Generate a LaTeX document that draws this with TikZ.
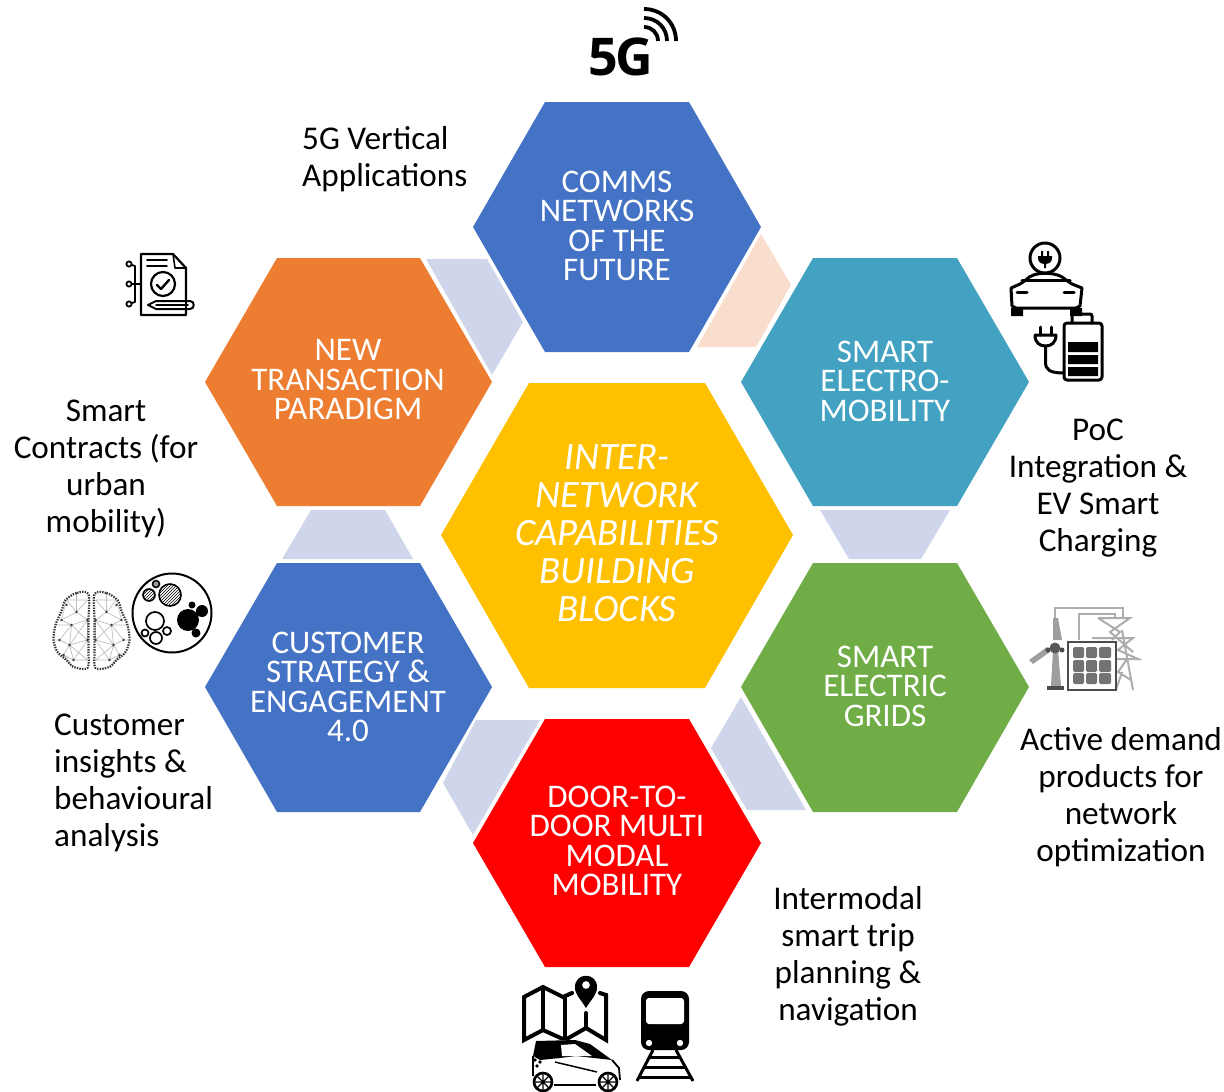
\documentclass[tikz,border=0pt]{standalone}
\usepackage{fontspec}
\setmainfont{Carlito}
\newfontfamily\iconfont{Open Sans}
\usetikzlibrary{patterns}
\definecolor{hblue}{HTML}{4472C4}
\definecolor{horange}{HTML}{ED7D31}
\definecolor{hteal}{HTML}{43A2C2}
\definecolor{hgreen}{HTML}{70AD47}
\definecolor{hyellow}{HTML}{FFC000}
\definecolor{piece}{HTML}{CFD5EA}
\definecolor{peach}{HTML}{F9DECD}
\tikzset{
  hextext/.style={text=white,align=center,inner sep=0pt,font=\fontsize{33}{29.5}\selectfont},
  midtext/.style={text=white,align=center,inner sep=0pt,font=\fontsize{38.7}{38}\selectfont\itshape},
  lab/.style={text=black,inner sep=0pt,font=\fontsize{33.2}{37}\selectfont},
  ic/.style={draw=black,line width=2pt,line join=round,line cap=round},
  icg/.style={draw=black!32,line width=2pt,line join=miter},
}
\begin{document}
\begin{tikzpicture}[x=1pt,y=-1pt]
\useasboundingbox (0,0) rectangle (1224,1092);
% connecting pieces
\fill[piece] (426,259)--(487,259)--(523,322)--(492,375)--cycle;
\fill[peach] (761,234)--(791,285)--(756,347)--(697,347)--cycle;
\fill[piece] (820,510)--(950,510)--(921,559)--(849,559)--cycle;
\fill[piece] (282,559)--(413,559)--(385,510)--(311,510)--cycle;
\fill[piece] (476,720)--(540,720)--(473,835)--(443,783)--cycle;
\fill[piece] (741,697)--(806,810)--(747,810)--(711,748)--cycle;
% hexagons
\fill[hblue] (473,227)--(545,102)--(689,102)--(761,227)--(689,352)--(545,352)--cycle;
\fill[horange] (205,382)--(277,258)--(420,258)--(492,382)--(420,506)--(277,506)--cycle;
\fill[hteal] (741,382)--(813,258)--(957,258)--(1029,382)--(957,506)--(813,506)--cycle;
\fill[hblue] (205,687)--(277,563)--(420,563)--(492,687)--(420,812)--(277,812)--cycle;
\fill[hgreen] (741,687)--(813,563)--(957,563)--(1029,687)--(957,812)--(813,812)--cycle;
\fill[red] (473,843)--(545,719)--(689,719)--(761,843)--(689,967)--(545,967)--cycle;
\fill[hyellow] (441,535)--(529,383)--(705,383)--(793,535)--(705,688)--(529,688)--cycle;
% hexagon texts
\node[hextext] (comms) at (617,226) {COMMS\\NETWORKS\\OF THE\\FUTURE};
\node[hextext] (trans) at (348,380) {NEW\\TRANSACTION\\PARADIGM};
\node[hextext] (emob) at (885,381) {SMART\\ELECTRO-\\MOBILITY};
\node[hextext] (cust) at (348,687) {CUSTOMER\\STRATEGY \&\\ENGAGEMENT\\4.0};
\node[hextext] (grids) at (885,686) {SMART\\ELECTRIC\\GRIDS};
\node[hextext] (door) at (617,841) {DOOR-TO-\\DOOR MULTI\\MODAL\\MOBILITY};
\node[midtext] (mid) at (617,533) {INTER-\\NETWORK\\CAPABILITIES\\BUILDING\\BLOCKS};
% labels
\node[lab,align=left,anchor=west] (l5g) at (302,159) {5G Vertical\\Applications};
\node[lab,align=center] (lsc) at (106,469) {Smart\\Contracts (for\\urban\\mobility)};
\node[lab,align=center] (lpoc) at (1098,488) {PoC\\Integration \&\\EV Smart\\Charging};
\node[lab,align=left,anchor=west] (lci) at (54,783) {Customer\\insights \&\\behavioural\\analysis};
\node[lab,align=center] (lad) at (1121,797) {Active demand\\products for\\network\\optimization};
\node[lab,align=center] (lit) at (848,956) {Intermodal\\smart trip\\planning \&\\navigation};
% 5G icon
\node[inner sep=0pt,font=\iconfont\bfseries\fontsize{52}{52}\selectfont] (fiveg) at (621,57) {\addfontfeature{LetterSpace=-6}5G};
\draw[line width=3.8pt] (644,27) .. controls (652,27) and (658,33) .. (658,41);
\draw[line width=3.8pt] (644,18) .. controls (657,18) and (667,28) .. (667,41);
\draw[line width=3.8pt] (644,9) .. controls (662,9) and (676,23) .. (676,41);
% document icon
\draw[ic,line width=2.2pt] (141,254)--(173,254)--(186,268)--(186,315)--(141,315)--cycle;
\draw[ic,line width=1.6pt] (173,254)--(175,268)--(186,268);
\draw[ic,line width=1.8pt] (147,260)--(167,260) (147,266)--(167,266);
\draw[ic,line width=2.2pt] (163,284) circle[radius=12];
\draw[ic,line width=2.4pt] (157,285)--(161,289)--(169,280);
\draw[ic,line width=1.8pt] (129,264)--(135,266)--(135,302)--(129,304) (132,284)--(141,284);
\draw[ic,line width=1.8pt,fill=white] (129,264) circle[radius=2.6] (129,284) circle[radius=2.6] (129,304) circle[radius=2.6];
\draw[ic,line width=2pt,fill=white] (148,305)--(156,301)--(190,301) .. controls (195,301) and (195,309) .. (190,309)--(156,309)--cycle;
\draw[ic,line width=1.5pt] (156,305)--(188,305) (186,301)--(186,309);
% EV icon
\draw[ic,line width=3pt,fill=white] (1011,288)--(1020,284)--(1026,280) .. controls (1032,271) and (1058,271) .. (1066,280)--(1072,284)--(1082,288)--(1080,306)--(1076,308)--(1016,308)--(1012,306)--cycle;
\draw[ic,line width=3pt] (1022,280)--(1070,280);
\fill[black] (1011,308) rectangle (1023,316) (1070,308) rectangle (1082,316);
\draw[ic,line width=3pt] (1017,292)--(1027,292) (1064,292)--(1074,292);
\draw[ic,line width=3pt,fill=white] (1045,258) circle[radius=15];
\fill[black] (1038,256)--(1052,256)--(1052,258) .. controls (1052,262) and (1049,264) .. (1045,264) .. controls (1041,264) and (1038,262) .. (1038,258) -- cycle;
\fill[black] (1044,264) rectangle (1046,268) (1041,251) rectangle (1043,257) (1047,251) rectangle (1049,257);
\draw[ic,line width=3pt,fill=white,rounded corners=3pt] (1064,323) rectangle (1102,380);
\draw[ic,line width=3pt,rounded corners=2pt] (1072,323)--(1072,314)--(1092,314)--(1092,323);
\fill[black] (1068,342) rectangle (1098,352) (1068,355) rectangle (1098,364) (1068,367) rectangle (1098,376);
\draw[ic,line width=3pt] (1040,327)--(1040,335) (1051,327)--(1051,335);
\draw[ic,line width=3pt] (1035,335)--(1056,335)  .. controls (1056,343) and (1051,346) .. (1045.5,346) .. controls (1040,346) and (1035,343) .. (1035,335);
\draw[ic,line width=3pt] (1045.5,346)--(1045.5,362) .. controls (1045.5,370) and (1050,373) .. (1064,373);
% brain and circle icon
\foreach \mir in {1,-1}{
 \begin{scope}[shift={(91.5,0)},xscale=\mir]
 \draw[black!25,line width=.7pt] (-4,600)--(-15,612)--(-4,620)--(-20,625)--(-4,640)--(-22,645)--(-4,660)--(-18,660)
  (-15,612)--(-25,600)--(-30,620)--(-20,625)--(-32,640)--(-22,645)--(-28,655)
  (-30,620)--(-15,612) (-4,640)--(-4,620) (-20,625)--(-22,645) (-18,660)--(-22,645) (-4,600)--(-25,600)
  (-15,593)--(-15,612) (-36,625)--(-20,625) (-38,640)--(-32,640) (-4,620)--(-22,645) (-4,640)--(-18,660) (-28,655)--(-18,667) (-18,660)--(-28,655);
 \draw[black!80,line width=2.2pt,dash pattern=on 1.4pt off 1.2pt] plot[smooth cycle] coordinates {(-3,594)(-15,593)(-26,600)(-30,611)(-36,625)(-38,640)(-34,652)(-25,660)(-18,667)(-4,668)(-3,650)(-3,620)};
 \foreach \p/\q in {-15/612,-4/620,-20/625,-4/640,-22/645,-30/620,-32/640,-28/655,-18/660,-25/605}
   \fill[black!75] (\p,\q) circle[radius=1.3];
 \end{scope}
}
\draw[black,line width=2pt] (172,613) circle[radius=39.5];
\draw[black,line width=1.6pt,pattern=north east lines,pattern color=black] (170,595) circle[radius=11] (149,595) circle[radius=6];
\draw[black,line width=1.5pt,fill=black!40] (156,584) circle[radius=3.5];
\fill[black] (188,620) circle[radius=11] (202,611) circle[radius=6] (192,605) circle[radius=3.5] (196,633) circle[radius=4.5];
\draw[black,line width=1.7pt] (155,621) circle[radius=9] (156,638) circle[radius=6] (167,631) circle[radius=4] (145,633) circle[radius=3.5];
% energy icon
\draw[icg] (1055,618)--(1055,608)--(1123,608)--(1123,618) (1079,640)--(1079,614)--(1115,614)--(1115,618);
\draw[icg] (1098,618)--(1130,618)--(1110,632)--(1133,652) (1098,618)--(1120,632)--(1112,640)
 (1092,638)--(1133,638)--(1118,650)--(1138,659)--(1116,659) (1122,630)--(1133,690) (1127,659)--(1118,672)--(1131,680) (1122,672)--(1116,690);
\fill[black!38] (1053,618)--(1058,618)--(1062,640)--(1053,640)--cycle;
\fill[black!38] (1029,660)--(1047,647)--(1050,652)--(1033,664)--cycle;
\fill[black!38] (1053,650)--(1058,650)--(1061,686)--(1051,686)--cycle;
\fill[black!70] (1047,686) rectangle (1064,690);
\fill[black!70] (1048,650) circle[radius=2.5] (1062,650) circle[radius=2.5];
\fill[black!65] (1055,648) circle[radius=5.5];
\draw[black!70,line width=2.6pt,fill=white] (1068,642) rectangle (1116,690);
\fill[black!55,rounded corners=1.5pt] (1073,647) rectangle (1084,658) (1086,647) rectangle (1097,658) (1099,647) rectangle (1111,658)
 (1073,660) rectangle (1084,672) (1086,660) rectangle (1097,672) (1099,660) rectangle (1111,672)
 (1073,673) rectangle (1084,684) (1086,673) rectangle (1097,684) (1099,673) rectangle (1111,684);
% map icon
\draw[ic,line width=4pt,line join=miter] (572,993)--(563,997)--(543,987)--(524,997)--(524,1040)--(543,1030)--(565,1040)--(586,1028)--(606,1040)--(606,995)--(600,993);
\draw[ic,line width=4pt] (543,987)--(543,1030) (565,997)--(565,1040) (586,1013)--(586,1028);
\fill[black,even odd rule] (586,1008) .. controls (580,998) and (575,995) .. (575,987) .. controls (575,972) and (597,972) .. (597,987) .. controls (597,995) and (592,998) .. (586,1008) -- cycle (586,985) circle[radius=4];
% car
\fill[white] (532,1060) rectangle (620,1090);
\fill[white] (536,1041)--(575,1040)--(590,1044)--(612,1060)--(532,1060)--cycle;
\fill[black] (536,1041)--(575,1040)--(590,1044)--(612,1060)--(576,1056)--(560,1058)--(540,1060)--(533,1056)--cycle;
\fill[white] (561,1045)--(575,1044)--(592,1056)--(562,1056)--cycle;
\draw[black,line width=1.8pt] (533,1056)--(533,1076) (612,1060)--(619,1068)--(620,1080);
\draw[black,line width=1.5pt] (555,1062)--(597,1072);
\draw[black,line width=2pt] (554,1085)--(596,1085);
\foreach \cx in {543,608}{
 \draw[black,line width=2.6pt,fill=white] (\cx,1082) circle[radius=9];
 \draw[black,line width=1.3pt] (\cx-8,1082)--(\cx+8,1082) (\cx,1074)--(\cx,1090) (\cx-6,1076)--(\cx+6,1088) (\cx-6,1088)--(\cx+6,1076);
}
\fill[black] (535,1060) circle[radius=1.8] (540,1062) circle[radius=1.8] (537,1066) circle[radius=1.8];
% train icon
\fill[black,rounded corners=8pt] (641,991) rectangle (689,1050);
\fill[white,rounded corners=3pt] (646,998) rectangle (684,1024);
\fill[white] (649,1043) circle[radius=3.2] (680,1043) circle[radius=3.2];
\draw[black,line width=3pt] (653,1050)--(637,1081) (676,1050)--(693,1081);
\draw[black,line width=3pt] (649,1057)--(681,1057) (645,1067)--(685,1067) (640,1077)--(690,1077);
\end{tikzpicture}
\end{document}
